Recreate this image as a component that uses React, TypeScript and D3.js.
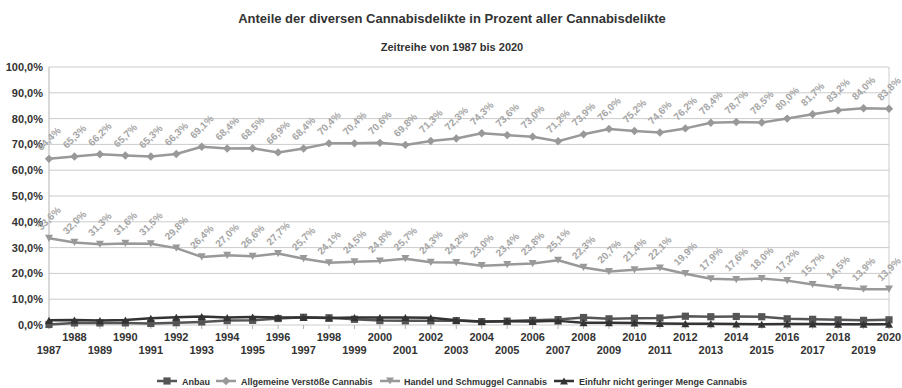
import React from "react";
import * as d3 from "d3";

const years = d3.range(1987, 2021).map(String);
const anbau = [0.2, 0.8, 0.8, 0.8, 0.6, 0.9, 1.2, 1.7, 1.8, 2.5, 3.0, 2.8, 2.2, 1.7, 1.6, 1.6, 1.7, 1.3, 1.5, 1.8, 2.1, 2.9, 2.4, 2.6, 2.7, 3.4, 3.2, 3.3, 3.2, 2.4, 2.2, 2.0, 1.8, 2.0];
const allgemein = [64.4, 65.3, 66.2, 65.7, 65.3, 66.3, 69.1, 68.4, 68.5, 66.9, 68.4, 70.4, 70.4, 70.6, 69.8, 71.3, 72.3, 74.3, 73.6, 73.0, 71.2, 73.9, 76.0, 75.2, 74.6, 76.2, 78.4, 78.7, 78.5, 80.0, 81.7, 83.2, 84.0, 83.8];
const handel = [33.6, 32.0, 31.3, 31.6, 31.5, 29.8, 26.4, 27.0, 26.6, 27.7, 25.7, 24.1, 24.5, 24.8, 25.7, 24.3, 24.2, 23.0, 23.4, 23.8, 25.1, 22.3, 20.7, 21.4, 22.1, 19.9, 17.9, 17.6, 18.0, 17.2, 15.7, 14.5, 13.9, 13.9];
const einfuhr = [1.8, 1.9, 1.7, 1.9, 2.6, 3.0, 3.3, 2.9, 3.1, 2.9, 2.9, 2.7, 2.9, 2.9, 2.9, 2.8, 1.8, 1.4, 1.5, 1.4, 1.6, 0.9, 0.9, 0.8, 0.6, 0.5, 0.5, 0.4, 0.3, 0.4, 0.4, 0.3, 0.3, 0.3];
const yTicks = [0, 10, 20, 30, 40, 50, 60, 70, 80, 90, 100];

const title = "Anteile der diversen Cannabisdelikte in Prozent aller Cannabisdelikte";
const subtitle = "Zeitreihe von 1987 bis 2020";

type Sym = "square" | "diamond" | "triangleDown" | "triangleUp";
const series: { name: string; values: number[]; color: string; sym: Sym; labels: boolean }[] = [
  { name: "Anbau", values: anbau, color: "#555555", sym: "square", labels: false },
  { name: "Allgemeine Verstöße Cannabis", values: allgemein, color: "#999999", sym: "diamond", labels: true },
  { name: "Handel und Schmuggel Cannabis", values: handel, color: "#999999", sym: "triangleDown", labels: true },
  { name: "Einfuhr nicht geringer Menge Cannabis", values: einfuhr, color: "#333333", sym: "triangleUp", labels: false },
];

const fmt = (v: number) => v.toFixed(1).replace(".", ",") + "%";
const FONT = "'Liberation Sans', Arial, sans-serif";

function Marker({ x, y, sym, color }: { x: number; y: number; sym: Sym; color: string }) {
  const s = 3.6;
  let d = "";
  if (sym === "square") d = `M${x - s},${y - s}h${2 * s}v${2 * s}h${-2 * s}Z`;
  else if (sym === "diamond") d = `M${x},${y - s - 0.6}L${x + s + 0.6},${y}L${x},${y + s + 0.6}L${x - s - 0.6},${y}Z`;
  else if (sym === "triangleDown") d = `M${x - s - 0.4},${y - s}L${x + s + 0.4},${y - s}L${x},${y + s}Z`;
  else d = `M${x - s - 0.4},${y + s}L${x + s + 0.4},${y + s}L${x},${y - s}Z`;
  return <path d={d} fill={color} />;
}

export default function App() {
  const W = 902, H = 388;
  const left = 49, right = 889, top = 67, bottom = 325;
  const x = d3.scalePoint<string>().domain(years).range([left, right]);
  const y = d3.scaleLinear().domain([0, 100]).range([bottom, top]);
  const line = d3.line<number>().x((_, i) => x(years[i]) as number).y((v) => y(v));

  const legendItems = [
    { mx: 167, tx: 182 },
    { mx: 226, tx: 241 },
    { mx: 390, tx: 404 },
    { mx: 564, tx: 579 },
  ];

  return (
    <svg width={W} height={H} style={{ position: "absolute", left: 0, top: 0, fontFamily: FONT }}>
      <rect x={0} y={0} width={W} height={H} fill="#fff" />
      <text x={452} y={23} textAnchor="middle" fontSize={13} fontWeight="bold" fill="#333">{title}</text>
      <text x={452} y={51} textAnchor="middle" fontSize={11} fontWeight="bold" fill="#333">{subtitle}</text>

      {yTicks.map((t) => (
        <g key={t}>
          <line x1={left} x2={right} y1={y(t)} y2={y(t)} stroke="#cccccc" strokeWidth={1} />
          <text x={43} y={y(t) + 4} textAnchor="end" fontSize={11} fontWeight="bold" fill="#333">{fmt(t)}</text>
        </g>
      ))}
      <line x1={left} x2={left} y1={top} y2={bottom + 4} stroke="#b3b3b3" />
      <line x1={right} x2={right} y1={top} y2={bottom + 4} stroke="#cccccc" />
      {years.map((yr, i) => (
        <g key={yr}>
          <line x1={x(yr)} x2={x(yr)} y1={bottom} y2={bottom + 4} stroke="#b3b3b3" />
          <text x={x(yr)} y={i % 2 === 1 ? 341 : 354} textAnchor="middle" fontSize={11} fontWeight="bold" fill="#333">{yr}</text>
        </g>
      ))}

      {series.map((s) => (
        <g key={s.name}>
          <path d={line(s.values) || ""} fill="none" stroke={s.color} strokeWidth={2.5} strokeLinejoin="round" />
          {s.values.map((v, i) => (
            <Marker key={i} x={x(years[i]) as number} y={y(v)} sym={s.sym} color={s.color} />
          ))}
        </g>
      ))}

      {series.filter((s) => s.labels).map((s) => (
        <g key={s.name + "l"}>
          {s.values.map((v, i) => {
            const cx = x(years[i]) as number;
            const cy = y(v) - 20;
            return (
              <text key={i} x={cx} y={cy + 3.5} textAnchor="middle" fontSize={10} fontWeight="bold" fill="#a6a6a6"
                transform={`rotate(-45 ${cx} ${cy})`}>{fmt(v)}</text>
            );
          })}
        </g>
      ))}

      {series.map((s, i) => (
        <g key={s.name + "lg"}>
          <line x1={legendItems[i].mx - 10} x2={legendItems[i].mx + 10} y1={381} y2={381} stroke={s.color} strokeWidth={2.5} />
          <Marker x={legendItems[i].mx} y={381} sym={s.sym} color={s.color} />
          <text x={legendItems[i].tx} y={384.5} fontSize={9} fontWeight="bold" fill="#333">{s.name}</text>
        </g>
      ))}
    </svg>
  );
}
